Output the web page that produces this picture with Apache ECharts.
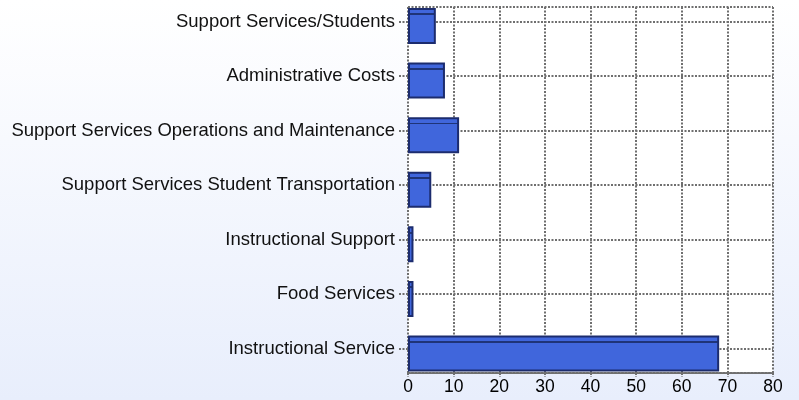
<!DOCTYPE html>
<html>
<head>
<meta charset="utf-8">
<script src="https://cdn.jsdelivr.net/npm/echarts@6/dist/echarts.min.js"></script>
<style>html,body{margin:0;padding:0;}#c{width:799px;height:400px;}</style>
</head>
<body>
<div id="c"></div>
<script>
const categories = ['Instructional Service', 'Food Services', 'Instructional Support', 'Support Services Student Transportation', 'Support Services Operations and Maintenance', 'Administrative Costs', 'Support Services/Students'];
const values = [68.2, 1.2, 1.2, 5.1, 11.2, 8.1, 6.1];
const xMin = 0, xMax = 80, xStep = 10;

const dot = { type: [2, 1.5], width: 2, color: '#6f6f6f' };
const chart = echarts.init(document.getElementById('c'));
chart.setOption({
  animation: false,
  backgroundColor: new echarts.graphic.LinearGradient(0, 0, 0, 1, [
    { offset: 0, color: '#ffffff' }, { offset: 1, color: '#e8eefc' }
  ]),
  grid: [
    { left: 408, right: 26, top: 7, bottom: 27, show: true, backgroundColor: '#ffffff', borderWidth: 0 },
    { left: 408, right: 26, top: 21.5, bottom: 51.5 },
    { left: 408, right: 26, top: 26, bottom: 46.5 }
  ],
  xAxis: [
    { gridIndex: 0, type: 'value', min: xMin, max: xMax, interval: xStep,
      axisLine: { show: true, lineStyle: dot }, axisTick: { show: true, length: 4, lineStyle: dot },
      axisLabel: { fontSize: 17.5, color: '#000', margin: 5, fontFamily: 'Liberation Sans, Arial, sans-serif' },
      splitLine: { show: true, lineStyle: dot } },
    { gridIndex: 1, type: 'value', min: xMin, max: xMax, show: false },
    { gridIndex: 2, type: 'value', min: xMin, max: xMax, show: false }
  ],
  yAxis: [
    { gridIndex: 0, type: 'value', min: 0, max: 1, interval: 1, axisLine: { show: false }, axisTick: { show: false },
      axisLabel: { show: false }, splitLine: { show: true, showMinLine: false, lineStyle: dot } },
    { gridIndex: 1, type: 'category', data: categories, boundaryGap: false, position: 'left', axisLine: { show: false },
      axisTick: { show: true, length: 10, lineStyle: dot },
      axisLabel: { fontSize: 18.5, color: '#111', margin: 13, fontFamily: 'Liberation Sans, Arial, sans-serif' } },
    { gridIndex: 1, type: 'category', data: categories, boundaryGap: false, position: 'left', offset: 0, axisLine: { show: false },
      axisTick: { show: true, inside: true, length: 365, lineStyle: dot },
      axisLabel: { show: false } },
    { gridIndex: 2, type: 'category', data: categories, boundaryGap: false, show: false }
  ],
  series: [{
    type: 'bar', xAxisIndex: 2, yAxisIndex: 3, data: values, barWidth: 36, clip: false,
    itemStyle: {
      color: new echarts.graphic.LinearGradient(0, 0, 0, 1, [
        { offset: 0, color: '#4066dc' }, { offset: 0.15, color: '#4066dc' },
        { offset: 0.15, color: '#1f3478' }, { offset: 0.2, color: '#1f3478' },
        { offset: 0.2, color: '#4066dc' }, { offset: 1, color: '#4066dc' }
      ]),
      borderColor: '#1c2c6e', borderWidth: 2
    }
  }]
});
</script>
</body>
</html>
